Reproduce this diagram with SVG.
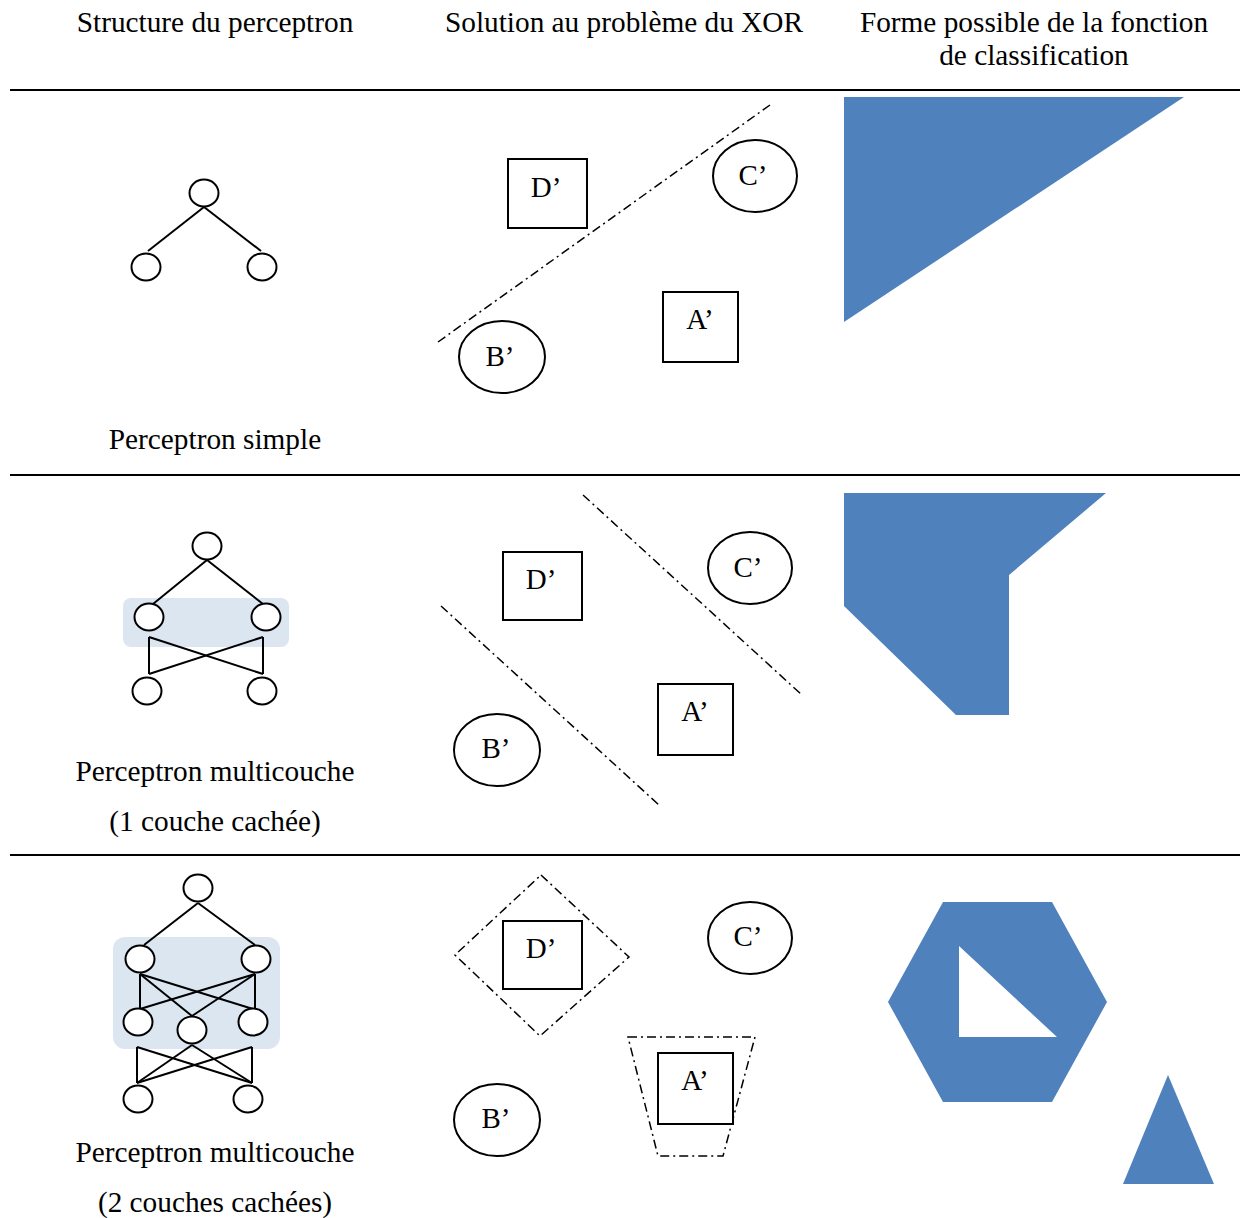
<svg xmlns="http://www.w3.org/2000/svg" width="1243" height="1218" viewBox="0 0 1243 1218">
<style>
text{font-family:"Liberation Serif","Times New Roman",serif;font-size:29.3px;fill:#000;text-anchor:middle}
.lbl{font-size:29px}
.rule{stroke:#000;stroke-width:2}
.n{fill:#fff;stroke:#000;stroke-width:2}
.e{stroke:#000;stroke-width:2;fill:none}
.bx{fill:#fff;stroke:#000;stroke-width:2}
.dd{fill:none;stroke:#000;stroke-width:1.5;stroke-dasharray:9 4 2 4}
.hl{fill:#dce6f1}
.sh{fill:#4f81bd}
</style>
<rect width="1243" height="1218" fill="#fff"/>
<g id="headers">
<text x="215" y="32">Structure du perceptron</text>
<text x="624" y="32">Solution au problème du XOR</text>
<text x="1034" y="32">Forme possible de la fonction</text>
<text x="1034" y="65">de classification</text>
</g>
<g id="rules">
<line class="rule" x1="10" y1="90" x2="1240" y2="90"/>
<line class="rule" x1="10" y1="475" x2="1240" y2="475"/>
<line class="rule" x1="10" y1="855" x2="1240" y2="855"/>
</g>
<!-- Row 1 -->
<g id="net1">
<g id="connectors1">
<line class="e" x1="204" y1="207" x2="148" y2="251"/>
<line class="e" x1="204" y1="207" x2="261" y2="251"/>
</g>
<ellipse class="n" cx="204" cy="193" rx="14.5" ry="13.5"/>
<ellipse class="n" cx="146" cy="267" rx="14.5" ry="13.5"/>
<ellipse class="n" cx="262" cy="267" rx="14.5" ry="13.5"/>
<text x="215" y="449">Perceptron simple</text>
</g>
<g id="xor1">
<line class="dd" x1="438" y1="342" x2="770" y2="105"/>
<g id="D1"><rect class="bx" x="508" y="159" width="79" height="69"/><text class="lbl" x="546" y="197">D’</text></g>
<g id="C1"><ellipse class="n" cx="755" cy="176" rx="42" ry="36"/><text class="lbl" x="753" y="185">C’</text></g>
<g id="A1"><rect class="bx" x="663" y="292" width="75" height="70"/><text class="lbl" x="700" y="329">A’</text></g>
<g id="B1"><ellipse class="n" cx="502" cy="357" rx="43" ry="36"/><text class="lbl" x="500" y="366">B’</text></g>
</g>
<g id="shape1"><polygon class="sh" points="844,97 1184,97 844,322"/></g>
<!-- Row 2 -->
<g id="net2">
<rect class="hl" x="123" y="598" width="166" height="49" rx="8"/>
<g id="connectors2">
<line class="e" x1="207" y1="560" x2="153" y2="604"/>
<line class="e" x1="207" y1="560" x2="263" y2="604"/>
<line class="e" x1="149" y1="637" x2="149" y2="674"/>
<line class="e" x1="263" y1="637" x2="263" y2="674"/>
<line class="e" x1="149" y1="637" x2="263" y2="674"/>
<line class="e" x1="263" y1="637" x2="149" y2="674"/>
</g>
<ellipse class="n" cx="207" cy="546" rx="14.5" ry="13.5"/>
<ellipse class="n" cx="149" cy="617" rx="14.5" ry="13.5"/>
<ellipse class="n" cx="266" cy="617" rx="14.5" ry="13.5"/>
<ellipse class="n" cx="147" cy="691" rx="14.5" ry="13.5"/>
<ellipse class="n" cx="262" cy="691" rx="14.5" ry="13.5"/>
<text x="215" y="781">Perceptron multicouche</text>
<text x="215" y="831">(1 couche cachée)</text>
</g>
<g id="xor2">
<line class="dd" x1="583" y1="495" x2="802" y2="695"/>
<line class="dd" x1="441" y1="606" x2="659" y2="805"/>
<g id="D2"><rect class="bx" x="503" y="552" width="79" height="68"/><text class="lbl" x="541" y="589">D’</text></g>
<g id="C2"><ellipse class="n" cx="750" cy="568" rx="42" ry="36"/><text class="lbl" x="748" y="577">C’</text></g>
<g id="A2"><rect class="bx" x="658" y="684" width="75" height="71"/><text class="lbl" x="695" y="721">A’</text></g>
<g id="B2"><ellipse class="n" cx="497" cy="750" rx="43" ry="36"/><text class="lbl" x="496" y="758">B’</text></g>
</g>
<g id="shape2"><polygon class="sh" points="844,493 1106,493 1009,575 1009,715 956,715 844,606"/></g>
<!-- Row 3 -->
<g id="net3">
<rect class="hl" x="113" y="937" width="167" height="112" rx="12"/>
<g id="connectors3">
<line class="e" x1="198" y1="903" x2="144" y2="945"/>
<line class="e" x1="198" y1="903" x2="255" y2="945"/>
<line class="e" x1="140" y1="974" x2="140" y2="1009"/>
<line class="e" x1="140" y1="974" x2="253" y2="1009"/>
<line class="e" x1="140" y1="974" x2="192" y2="1016"/>
<line class="e" x1="255" y1="974" x2="255" y2="1009"/>
<line class="e" x1="255" y1="974" x2="140" y2="1009"/>
<line class="e" x1="255" y1="974" x2="192" y2="1016"/>
<line class="e" x1="137" y1="1047" x2="137" y2="1083"/>
<line class="e" x1="252" y1="1047" x2="252" y2="1083"/>
<line class="e" x1="137" y1="1047" x2="252" y2="1083"/>
<line class="e" x1="252" y1="1047" x2="137" y2="1083"/>
<line class="e" x1="192" y1="1045" x2="137" y2="1083"/>
<line class="e" x1="192" y1="1045" x2="252" y2="1083"/>
</g>
<ellipse class="n" cx="198" cy="888" rx="14.5" ry="13.5"/>
<ellipse class="n" cx="140" cy="959" rx="14.5" ry="13.5"/>
<ellipse class="n" cx="256" cy="959" rx="14.5" ry="13.5"/>
<ellipse class="n" cx="138" cy="1022" rx="14.5" ry="13.5"/>
<ellipse class="n" cx="192" cy="1030" rx="14.5" ry="13.5"/>
<ellipse class="n" cx="253" cy="1022" rx="14.5" ry="13.5"/>
<ellipse class="n" cx="138" cy="1099" rx="14.5" ry="13.5"/>
<ellipse class="n" cx="248" cy="1099" rx="14.5" ry="13.5"/>
<text x="215" y="1162">Perceptron multicouche</text>
<text x="215" y="1212">(2 couches cachées)</text>
</g>
<g id="xor3">
<polygon class="dd" points="541,875 629,957 540,1036 455,955"/>
<polygon class="dd" points="628,1037 755,1037 723,1156 658,1156"/>
<g id="D3"><rect class="bx" x="503" y="921" width="79" height="68"/><text class="lbl" x="541" y="958">D’</text></g>
<g id="C3"><ellipse class="n" cx="750" cy="938" rx="42" ry="36"/><text class="lbl" x="748" y="946">C’</text></g>
<g id="A3"><rect class="bx" x="658" y="1053" width="75" height="71"/><text class="lbl" x="695" y="1090">A’</text></g>
<g id="B3"><ellipse class="n" cx="497" cy="1120" rx="43" ry="36"/><text class="lbl" x="496" y="1128">B’</text></g>
</g>
<g id="shape3">
<path class="sh" fill-rule="evenodd" d="M943,902 L1052,902 L1107,1002 L1052,1102 L943,1102 L888,1002 Z M959,946 L1057,1037 L959,1037 Z"/>
<polygon class="sh" points="1168,1075 1214,1184 1123,1184"/>
</g>
</svg>
